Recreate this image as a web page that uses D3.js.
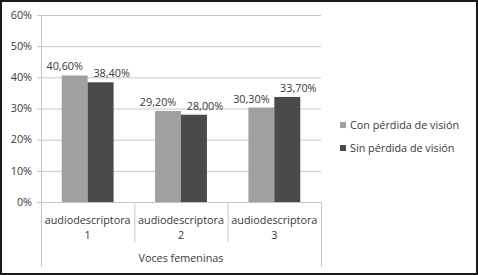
<!DOCTYPE html>
<html>
<head>
<meta charset="utf-8">
<script src="https://cdn.jsdelivr.net/npm/d3@7"></script>
<style>
  body { margin: 0; background: #fff; }
  text { font-family: "Open Sans", sans-serif; fill: #383838; }
</style>
</head>
<body>
<div id="chart"></div>
<script>
const categories = ["audiodescriptora 1", "audiodescriptora 2", "audiodescriptora 3"];
const seriesNames = ["Con pérdida de visión", "Sin pérdida de visión"];
const conPerdida = [40.6, 29.2, 30.3];
const sinPerdida = [38.4, 28.0, 33.7];
const yTicks = [0, 10, 20, 30, 40, 50, 60];
const groupLabel = "Voces femeninas";

const width = 478, height = 275;
const plotLeft = 41, plotRight = 321, plotTop = 15, plotBottom = 202;
const colors = ["#a0a0a0", "#4a4a4a"];
const fs = "10.8px";

const svg = d3.select("#chart").append("svg")
  .attr("width", width).attr("height", height);

svg.append("rect").attr("x", 1).attr("y", 1).attr("width", width - 2).attr("height", height - 2)
  .attr("fill", "#fff").attr("stroke", "#1a1a1a").attr("stroke-width", 2);

const y = d3.scaleLinear().domain([0, 60]).range([plotBottom, plotTop]);
const x0 = d3.scaleBand().domain(categories).range([plotLeft, plotRight]);
const x1 = d3.scaleBand().domain(seriesNames).range([0, x0.bandwidth()]).paddingOuter(0.8);

// gridlines + y labels
svg.append("g").selectAll("line").data(yTicks).join("line")
  .attr("x1", plotLeft - 4).attr("x2", plotRight)
  .attr("y1", d => y(d) + 0.5).attr("y2", d => y(d) + 0.5)
  .attr("stroke", "#c6c6c6");

svg.append("g").selectAll("text").data(yTicks).join("text")
  .attr("x", 32).attr("y", d => y(d)).attr("dy", "0.35em")
  .attr("text-anchor", "end").style("font-size", fs)
  .text(d => d + "%");

// axis lines
svg.append("line").attr("x1", plotLeft + 0.5).attr("x2", plotLeft + 0.5)
  .attr("y1", plotTop).attr("y2", 267).attr("stroke", "#c6c6c6");
svg.append("line").attr("x1", plotRight + 0.5).attr("x2", plotRight + 0.5)
  .attr("y1", plotBottom).attr("y2", 267).attr("stroke", "#c6c6c6");
svg.append("g").selectAll("line").data(categories.slice(1)).join("line")
  .attr("x1", d => x0(d) + 0.5).attr("x2", d => x0(d) + 0.5)
  .attr("y1", plotBottom).attr("y2", 242).attr("stroke", "#c6c6c6");

// bars
const rows = categories.map((c, i) => ({ cat: c, vals: [conPerdida[i], sinPerdida[i]] }));
const groups = svg.append("g").selectAll("g").data(rows).join("g")
  .attr("transform", d => `translate(${x0(d.cat)},0)`);

groups.selectAll("rect").data(d => d.vals.map((v, j) => ({ name: seriesNames[j], v, j })))
  .join("rect")
  .attr("x", d => x1(d.name)).attr("width", x1.bandwidth())
  .attr("y", d => y(d.v)).attr("height", d => y(0) - y(d.v))
  .attr("fill", d => colors[d.j]);

const labelShift = [-10, 11];
groups.selectAll("text").data(d => d.vals.map((v, j) => ({ name: seriesNames[j], v, j })))
  .join("text")
  .attr("x", d => x1(d.name) + x1.bandwidth() / 2 + labelShift[d.j])
  .attr("y", d => y(d.v) - 5)
  .attr("text-anchor", "middle").style("font-size", fs)
  .text(d => d.v.toFixed(2).replace(".", ",") + "%");

// category labels
const catText = svg.append("g").selectAll("text").data(categories).join("text")
  .attr("text-anchor", "middle").style("font-size", fs);
catText.append("tspan")
  .attr("x", d => x0(d) + x0.bandwidth() / 2).attr("y", 224)
  .text(d => d.split(" ")[0]);
catText.append("tspan")
  .attr("x", d => x0(d) + x0.bandwidth() / 2).attr("y", 239)
  .text(d => d.split(" ")[1]);

svg.append("text").attr("x", (plotLeft + plotRight) / 2).attr("y", 262)
  .attr("text-anchor", "middle").style("font-size", fs).text(groupLabel);

// legend
const legend = svg.append("g").selectAll("g").data(seriesNames).join("g")
  .attr("transform", (d, i) => `translate(340,${125 + i * 23})`);
legend.append("rect").attr("x", 0).attr("y", -3).attr("width", 6).attr("height", 6)
  .attr("fill", (d, i) => colors[i]);
legend.append("text").attr("x", 10).attr("y", 0).attr("dy", "0.35em")
  .style("font-size", fs).text(d => d);
</script>
</body>
</html>
